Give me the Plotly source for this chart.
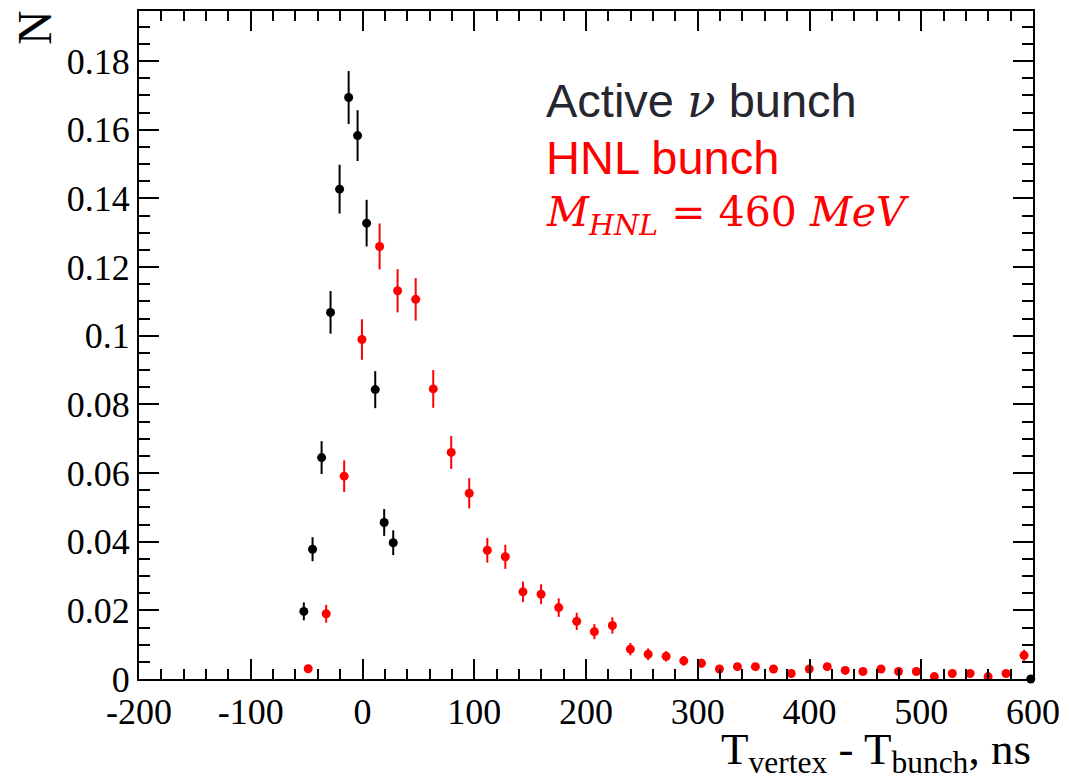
import plotly.graph_objects as go

# Active neutrino bunch
black_x = [-52.5, -44.7, -36.6, -28.6, -20.5, -12.4, -4.4, 3.7, 11.4, 19.4, 27.5, 598]
black_y = [0.0197, 0.0378, 0.0645, 0.1068, 0.1427, 0.1694, 0.1583, 0.1328, 0.0843, 0.0456, 0.0397, 0.0]
black_err = [0.0026, 0.0035, 0.0048, 0.0062, 0.0071, 0.0077, 0.0074, 0.0068, 0.0054, 0.0039, 0.0036, 0.0]

# HNL bunch
red_x = [-48.6, -32.5, -16.4, -0.5, 15.3, 31.4, 47.6, 63.3, 79.4, 95.5,
         111.7, 127.8, 143.6, 159.8, 175.6, 191.7, 207.5, 223.6, 239.7, 255.6,
         271.7, 287.5, 303.3, 319.4, 335.5, 351.6, 367.8, 383.6, 399.8, 415.9,
         432.0, 447.8, 464.0, 479.7, 495.6, 511.7, 527.8, 543.7, 559.8, 575.9, 592.0]
red_y = [0.0030, 0.0190, 0.0591, 0.0989, 0.1260, 0.1131, 0.1106, 0.0845, 0.0660, 0.0541,
         0.0375, 0.0356, 0.0254, 0.0247, 0.0208, 0.0168, 0.0138, 0.0156, 0.0087, 0.0072,
         0.0066, 0.0053, 0.0046, 0.0029, 0.0036, 0.0036, 0.0029, 0.0016, 0.0029, 0.0036,
         0.0025, 0.0022, 0.0029, 0.0022, 0.0022, 0.0007, 0.0016, 0.0016, 0.0007, 0.0016, 0.0069]
red_err = [0.0010, 0.0026, 0.0046, 0.0059, 0.0067, 0.0063, 0.0062, 0.0055, 0.0048, 0.0044,
           0.0036, 0.0035, 0.0030, 0.0029, 0.0027, 0.0025, 0.0022, 0.0024, 0.0018, 0.0017,
           0.0015, 0.0014, 0.0013, 0.0010, 0.0011, 0.0011, 0.0010, 0.0008, 0.0010, 0.0011,
           0.0010, 0.0009, 0.0010, 0.0009, 0.0009, 0.0005, 0.0008, 0.0008, 0.0005, 0.0008, 0.0016]

x_tick_vals = [-200, -100, 0, 100, 200, 300, 400, 500, 600]
x_tick_labels = ["-200", "-100", "0", "100", "200", "300", "400", "500", "600"]
y_tick_vals = [0, 0.02, 0.04, 0.06, 0.08, 0.1, 0.12, 0.14, 0.16, 0.18]
y_tick_labels = ["0", "0.02", "0.04", "0.06", "0.08", "0.1", "0.12", "0.14", "0.16", "0.18"]

x_range = [-200, 600]
y_range = [0, 0.1946]

fig = go.Figure()
fig.add_trace(go.Scatter(
    x=red_x, y=red_y, mode="markers",
    marker=dict(color="#ff0000", size=9),
    error_y=dict(type="data", array=red_err, color="#ff0000", thickness=2, width=0),
    cliponaxis=False, showlegend=False))
fig.add_trace(go.Scatter(
    x=black_x, y=black_y, mode="markers",
    marker=dict(color="#000000", size=9),
    error_y=dict(type="data", array=black_err, color="#000000", thickness=2, width=0),
    cliponaxis=False, showlegend=False))

tickfont = dict(family="Liberation Serif", size=36, color="#000000")

# page body adds an 8px margin, so the figure is sized to fit inside the window
fig.update_layout(
    width=1061, height=775,
    margin=dict(l=131, r=36, t=3, b=104, autoexpand=False),
    paper_bgcolor="white", plot_bgcolor="white",
    showlegend=False,
    xaxis=dict(range=x_range, showgrid=False, zeroline=False, automargin=False,
               showline=True, linecolor="black", linewidth=2, mirror="allticks",
               ticks="inside", ticklen=20, tickwidth=2, tickcolor="black",
               tickvals=x_tick_vals, ticktext=x_tick_labels, tickfont=tickfont,
               minor=dict(ticks="inside", ticklen=10, tickwidth=2, tickcolor="black", dtick=20, showgrid=False)),
    yaxis=dict(range=y_range, showgrid=False, zeroline=False, automargin=False,
               showline=True, linecolor="black", linewidth=2, mirror="allticks",
               ticks="inside", ticklen=20, tickwidth=2, tickcolor="black",
               tickvals=y_tick_vals, ticktext=y_tick_labels, tickfont=tickfont,
               minor=dict(ticks="inside", ticklen=11, tickwidth=2, tickcolor="black", dtick=0.005, showgrid=False)),
)

fig.add_annotation(xref="paper", yref="paper", x=1.0, y=-0.109, xanchor="right", yanchor="middle",
                   showarrow=False,
                   text="T<sub>vertex</sub> - T<sub>bunch</sub>, ns",
                   font=dict(family="Liberation Serif", size=45, color="#000000"))
fig.add_annotation(xref="paper", yref="paper", x=-0.117, y=0.975, xanchor="center", yanchor="middle",
                   showarrow=False, textangle=-90, text="N",
                   font=dict(family="Liberation Serif", size=48, color="#000000"))

fig.add_annotation(xref="paper", yref="paper", x=0.453, y=0.8667, xanchor="left", yanchor="middle",
                   showarrow=False,
                   text="Active <i><span style='font-family:DejaVu Serif'>ν</span></i> bunch",
                   font=dict(family="Liberation Sans", size=47, color="#262630"))
fig.add_annotation(xref="paper", yref="paper", x=0.453, y=0.780, xanchor="left", yanchor="middle",
                   showarrow=False, text="HNL bunch",
                   font=dict(family="Liberation Sans", size=47, color="#ff0000"))
fig.add_annotation(xref="paper", yref="paper", x=0.453, y=0.6944, xanchor="left", yanchor="middle",
                   showarrow=False,
                   text="<i>M</i><sub><i>HNL</i></sub> = 460 <i>MeV</i>",
                   font=dict(family="DejaVu Serif", size=41, color="#ff0000"))

fig.write_html("out.html")
